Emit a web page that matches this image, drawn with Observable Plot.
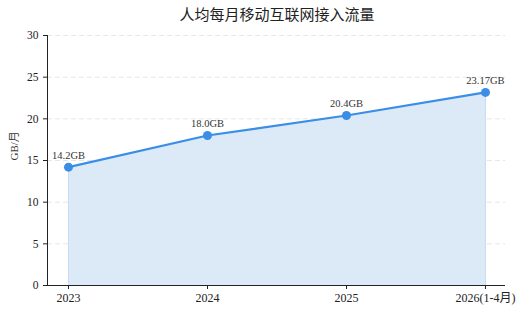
<!DOCTYPE html>
<html><head><meta charset="utf-8">
<script src="https://cdn.jsdelivr.net/npm/d3@7"></script>
<script src="https://cdn.jsdelivr.net/npm/@observablehq/plot@0.6"></script>
<style>
body{margin:0;background:#fff;font-family:"Liberation Serif","Noto Sans CJK SC",serif;}
#title{height:28px;line-height:30px;text-align:center;font-size:15px;color:#222;padding-left:26px;}
</style></head><body>
<div id="title">人均每月移动互联网接入流量</div>
<div id="chart"></div>
<script>
const years = ["2023","2024","2025","2026(1-4月)"];
const traffic = [14.2, 18.0, 20.4, 23.17];
const labels = ["14.2GB","18.0GB","20.4GB","23.17GB"];
const yTicks = [0,5,10,15,20,25,30];

const data = years.map((y,i)=>({i, year:y, v:traffic[i], label:labels[i]}));
const color = "#3a8ee6";
const chart = Plot.plot({
  width:528, height:287,
  marginLeft:47, marginRight:23, marginTop:7, marginBottom:30,
  style:{fontFamily:'"Liberation Serif","Noto Sans CJK SC",serif', fontSize:"11px", color:"#222", background:"#fff"},
  x:{domain:[-0.151,3.144], label:null},
  y:{domain:[0,30], label:null},
  marks:[
    Plot.ruleY(yTicks.filter(t=>t>0), {stroke:"#e0e0e0", strokeDasharray:"5,3", strokeWidth:0.8}),
    Plot.areaY(data, {x:"i", y:"v", fill:"#dce9f7", fillOpacity:1}),
    Plot.ruleX([0,3], {y1:0, y2:(d)=>traffic[d], stroke:"#c9dcf2", strokeWidth:1}),
    Plot.lineY(data, {x:"i", y:"v", stroke:color, strokeWidth:2.2}),
    Plot.dot(data, {x:"i", y:"v", r:4.5, fill:color}),
    Plot.text(data, {x:"i", y:"v", text:"label", dy:-12, fontSize:10.5, fill:"#333"}),
    Plot.axisX({ticks:[0,1,2,3], tickFormat:d=>years[d], tickSize:4, fontSize:12, stroke:"#222", tickPadding:4}),
    Plot.axisY({ticks:yTicks, tickSize:4, fontSize:11.5, label:null}),
    Plot.ruleY([0], {stroke:"#222", strokeWidth:1}),
    Plot.ruleX([-0.151], {stroke:"#222", strokeWidth:1}),
    Plot.text(["GB/月"], {frameAnchor:"left", dx:-33, rotate:-90, fontSize:11, fill:"#333"})
  ]
});
document.getElementById("chart").appendChild(chart);
</script></body></html>
